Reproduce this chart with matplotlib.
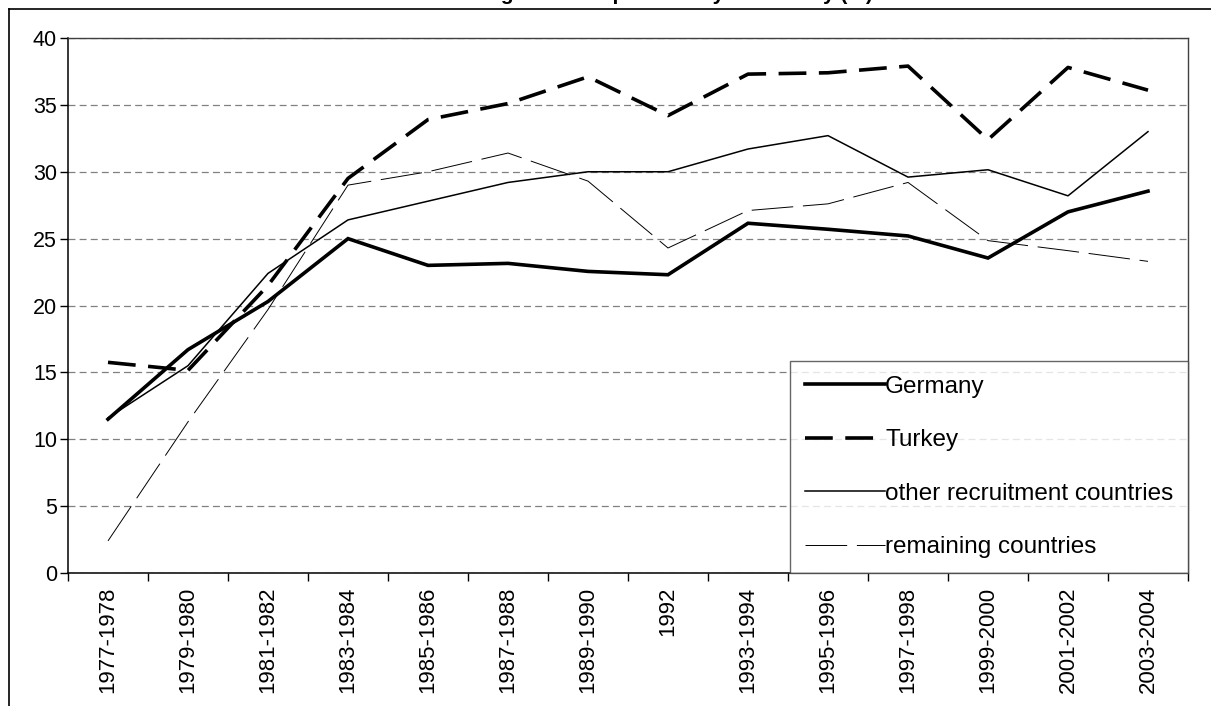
import matplotlib
matplotlib.use("Agg")
import matplotlib.pyplot as plt
from matplotlib.lines import Line2D
import numpy as np

plt.rcParams['font.family'] = ['Liberation Sans', 'DejaVu Sans']
plt.rcParams['lines.scale_dashes'] = False

periods = ['1977-1978', '1979-1980', '1981-1982', '1983-1984', '1985-1986',
           '1987-1988', '1989-1990', '1992', '1993-1994', '1995-1996',
           '1997-1998', '1999-2000', '2001-2002', '2003-2004']

germany = [11.5, 16.7, 20.3, 25.0, 23.0, 23.15, 22.55, 22.3, 26.15, 25.7, 25.2, 23.55, 27.0, 28.55]
turkey = [15.75, 15.15, 21.5, 29.5, 33.9, 35.1, 37.1, 34.2, 37.3, 37.4, 37.9, 32.4, 37.8, 36.1]
other_recruitment = [11.6, 15.5, 22.4, 26.4, 27.8, 29.2, 30.0, 30.0, 31.7, 32.7, 29.6, 30.15, 28.2, 33.0]
remaining = [2.4, 11.3, 19.7, 29.0, 30.0, 31.4, 29.3, 24.3, 27.1, 27.6, 29.2, 24.85, 24.1, 23.3]

fig = plt.figure(figsize=(12.11, 7.06), dpi=100)
ax = fig.add_axes([68 / 1211, (706 - 573) / 706, (1188 - 68) / 1211, (573 - 38) / 706])

x = np.arange(len(periods))

ax.plot(x, germany, color='black', lw=2.6, solid_joinstyle='miter', label='Germany', zorder=5)
ax.plot(x, turkey, color='black', lw=2.6, linestyle=(0, (20, 9)), dash_capstyle='butt',
        label='Turkey', zorder=5)
ax.plot(x, other_recruitment, color='black', lw=1.1, label='other recruitment countries', zorder=4)
ax.plot(x, remaining, color='black', lw=0.7, linestyle=(0, (30, 7)), dash_capstyle='butt',
        label='remaining countries', zorder=4)

ax.set_xlim(-0.5, len(periods) - 0.5)
ax.set_ylim(0, 40)
ax.set_yticks(range(0, 41, 5))
ax.yaxis.grid(True, color='#808080', linestyle=(0, (5, 3)), lw=0.9)
ax.set_axisbelow(True)

# tick marks between categories, labels at category centres
ax.set_xticks(np.arange(-0.5, len(periods), 1))
ax.set_xticklabels([])
ax.set_xticks(x, minor=True)
ax.set_xticklabels(periods, minor=True, rotation=90, fontsize=16, va='top')
ax.tick_params(axis='x', which='major', direction='out', length=6, width=1, color='black')
ax.tick_params(axis='x', which='minor', length=0, pad=10)
ax.tick_params(axis='y', direction='out', length=6, width=1, labelsize=15.5, pad=2)

for side in ['left', 'bottom']:
    ax.spines[side].set_color('black')
    ax.spines[side].set_linewidth(1.1)
ax.spines['top'].set_color('#404040')
ax.spines['right'].set_color('#404040')
ax.spines['top'].set_linewidth(1)
ax.spines['right'].set_linewidth(1)

leg = ax.legend(loc='lower right', bbox_to_anchor=(1.0, 0.0), fontsize=17.5, frameon=True,
                fancybox=False, edgecolor='#404040', handlelength=3.3, handletextpad=0.0,
                labelspacing=1.3, borderpad=0.6, borderaxespad=0.0)
leg.get_frame().set_linewidth(1)
leg.set_zorder(10)

# outer chart frame (top and left edges)
fig.add_artist(Line2D([9 / 1211, 1], [1 - 9 / 706, 1 - 9 / 706], color='black', lw=1.2,
                      transform=fig.transFigure))
fig.add_artist(Line2D([9 / 1211, 9 / 1211], [0, 1 - 9 / 706], color='black', lw=1.2,
                      transform=fig.transFigure))

# title sits mostly above the visible area, as in the original
fig.text(655 / 1211, 1 - 0.5 / 706, 'Marriage rates of persons by nationality (%)',
         ha='center', va='baseline', fontsize=15, fontweight='bold')

fig.savefig('out.png', dpi=100)
